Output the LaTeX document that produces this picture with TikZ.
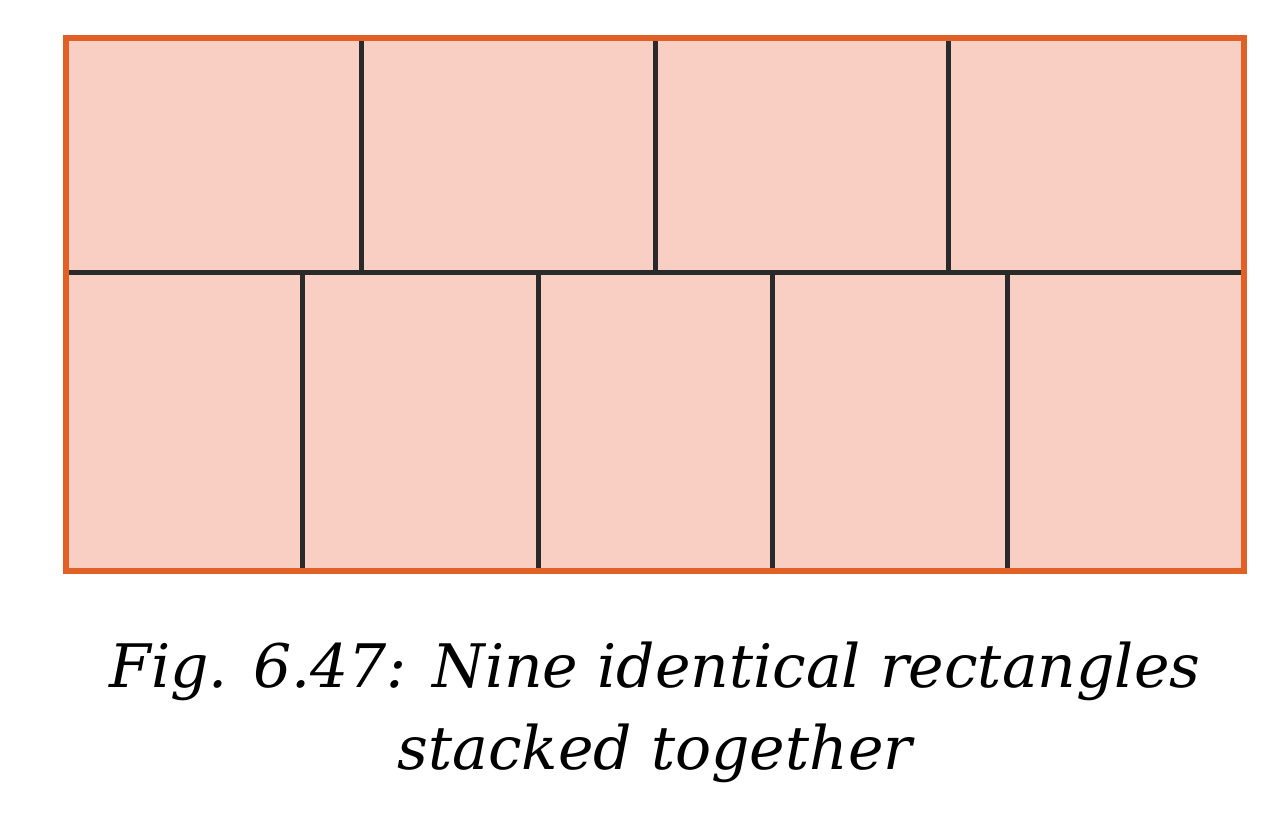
\documentclass[tikz,border=0pt]{standalone}
\usepackage{fontspec}
\setmainfont{DejaVu Serif}
\definecolor{fillc}{HTML}{F8CFC2}
\definecolor{edgec}{HTML}{E06025}
\definecolor{linec}{HTML}{2A2A2A}
\begin{document}
\begin{tikzpicture}[x=1pt,y=-1pt,
  inner/.style={draw=linec,line width=5pt},
  captext/.style={font=\fontsize{60}{82}\selectfont\itshape,align=center,inner sep=0}]
\useasboundingbox (0,0) rectangle (1279,816);
\fill[fillc] (66,38) rectangle (1244,571);
\coordinate (L) at (66,272); \coordinate (R) at (1244,272);
\draw[inner] (L) -- (R);
\foreach \x in {361,655,948} \draw[inner] (\x,38) -- (\x,272);
\foreach \x in {302,538,772,1007} \draw[inner] (\x,272) -- (\x,571);
\draw[edgec,line width=6pt] (66,38) rectangle (1244,571);
\node[captext] (c) at (655,712) {Fig. 6.47: Nine identical rectangles\\stacked together};
\end{tikzpicture}
\end{document}
